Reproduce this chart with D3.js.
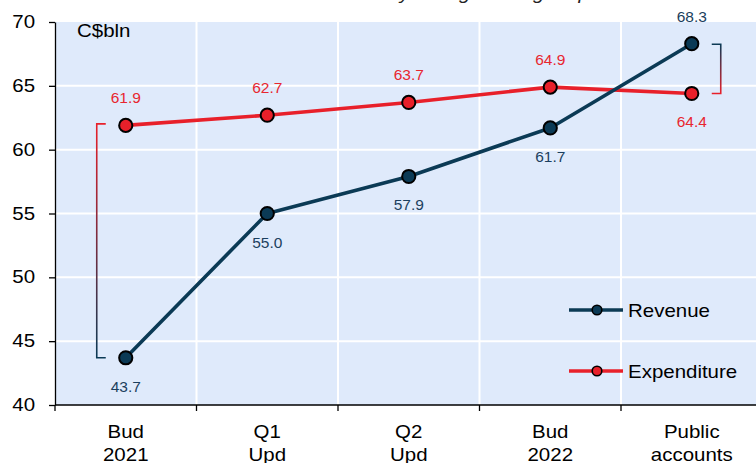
<!DOCTYPE html>
<html>
<head>
<meta charset="utf-8">
<script src="https://cdn.jsdelivr.net/npm/d3@7"></script>
<style>
  html, body { margin: 0; padding: 0; background: #ffffff; }
  svg { display: block; font-family: Arial, "Liberation Sans", sans-serif; }
</style>
</head>
<body>
<svg id="chart" width="756" height="463"></svg>
<script>
// Fiscal outcome for 2021-22 as it evolved through the year, C$ billions
const categories = [["Bud", "2021"], ["Q1", "Upd"], ["Q2", "Upd"], ["Bud", "2022"], ["Public", "accounts"]];
const revenue     = [43.7, 55.0, 57.9, 61.7, 68.3];
const expenditure = [61.9, 62.7, 63.7, 64.9, 64.4];
const yTicks = [40, 45, 50, 55, 60, 65, 70];
// label placement: +1 above the point, -1 below
const revenueLabelSide     = [-1, -1, -1, -1, 1];
const expenditureLabelSide = [1, 1, 1, 1, -1];

const NAVY = "#0b3a55";
const RED = "#e8202a";
const BG = "#dfeafb";
const WIDE = 1.17;      // horizontal stretch used by the large captions
const FS = 17.5;

const svg = d3.select("#chart");
const plot = { left: 55, right: 762.5, top: 22, bottom: 405 };

const keys = categories.map((c, i) => i);
const x = d3.scaleBand().domain(keys).range([plot.left, plot.right]).paddingInner(0).paddingOuter(0);
const y = d3.scaleLinear().domain([40, 70]).range([plot.bottom, plot.top]);
const cx = i => x(i) + x.bandwidth() / 2;

// title line sitting above the frame
const title = svg.append("text")
  .attr("x", 0).attr("y", 0)
  .attr("font-style", "italic")
  .attr("font-size", 17.5)
  .attr("fill", "#222")
  .text("2021-22 fiscal outcome by timing of budget updates");
{
  const t = title.text();
  const yPos = title.node().getStartPositionOfChar(t.indexOf("by") + 1).x;
  title.attr("transform", `translate(${400 - yPos * WIDE},-0.8) scale(${WIDE},1)`);
}

// plot background
svg.append("rect")
  .attr("x", plot.left).attr("y", plot.top)
  .attr("width", plot.right - plot.left).attr("height", plot.bottom - plot.top)
  .attr("fill", BG);

// gridlines
svg.append("g").selectAll("line")
  .data(yTicks.filter(t => t > 40 && t < 70))
  .join("line")
  .attr("x1", plot.left).attr("x2", plot.right)
  .attr("y1", d => y(d)).attr("y2", d => y(d))
  .attr("stroke", "#ffffff").attr("stroke-width", 2);

svg.append("g").selectAll("line")
  .data(keys.slice(1))
  .join("line")
  .attr("x1", d => x(d)).attr("x2", d => x(d))
  .attr("y1", plot.top).attr("y2", plot.bottom)
  .attr("stroke", "#ffffff").attr("stroke-width", 2);

// y axis
const yAxis = svg.append("g")
  .attr("transform", `translate(${plot.left},0)`)
  .call(d3.axisLeft(y).tickValues(yTicks).tickSize(6).tickSizeOuter(0).tickPadding(14));
yAxis.selectAll("text")
  .attr("font-size", FS).attr("fill", "#000")
  .attr("font-family", "Arial, 'Liberation Sans', sans-serif")
  .attr("x", -20 / WIDE)
  .attr("transform", `scale(${WIDE},1)`);
yAxis.selectAll("line").attr("stroke", "#000").attr("stroke-width", 1.3);
yAxis.select(".domain").attr("stroke", "#000").attr("stroke-width", 1.3);

// x axis: baseline, boundary ticks, two-line labels
const xAxis = svg.append("g");
xAxis.append("line")
  .attr("x1", plot.left).attr("x2", plot.right)
  .attr("y1", plot.bottom).attr("y2", plot.bottom)
  .attr("stroke", "#000").attr("stroke-width", 1.3);
xAxis.selectAll("line.tick")
  .data(keys.concat([keys.length]))
  .join("line")
  .attr("class", "tick")
  .attr("x1", d => plot.left + d * x.bandwidth()).attr("x2", d => plot.left + d * x.bandwidth())
  .attr("y1", plot.bottom).attr("y2", plot.bottom + 6)
  .attr("stroke", "#000").attr("stroke-width", 1.3);
const xl = xAxis.selectAll("text.cat")
  .data(categories)
  .join("text")
  .attr("class", "cat")
  .attr("text-anchor", "middle")
  .attr("font-size", FS)
  .attr("fill", "#000")
  .attr("transform", (d, i) => `translate(${cx(i)},0) scale(${WIDE},1)`);
xl.append("tspan").attr("x", 0).attr("y", 438).text(d => d[0]);
xl.append("tspan").attr("x", 0).attr("y", 461).text(d => d[1]);

// unit label
svg.append("text")
  .attr("transform", `translate(77,37) scale(${WIDE},1)`)
  .attr("font-size", FS).attr("fill", "#000")
  .text("C$bln");

// gap brackets with a colour blend between the two series
const defs = svg.append("defs");
function gradient(id, top, bottom) {
  const g = defs.append("linearGradient").attr("id", id)
    .attr("x1", 0).attr("y1", 0).attr("x2", 0).attr("y2", 1);
  g.append("stop").attr("offset", "0%").attr("stop-color", top);
  g.append("stop").attr("offset", "100%").attr("stop-color", bottom);
}
gradient("gapLeft", RED, NAVY);
gradient("gapRight", NAVY, RED);

function bracket(i, yTop, yBot, side, grad) {
  const xp = cx(i);
  const xv = xp + side * 29;
  const xa = xp + side * 20;
  svg.append("path")
    .attr("d", `M${xa},${yTop} H${xv} V${yBot} H${xa}`)
    .attr("fill", "none")
    .attr("stroke", `url(#${grad})`)
    .attr("stroke-width", 1.6);
}
bracket(0, y(expenditure[0]) - 1.5, y(revenue[0]), -1, "gapLeft");
bracket(4, y(revenue[4]) + 0.5, y(expenditure[4]), 1, "gapRight");

// series
const line = d3.line().x((d, i) => cx(i)).y(d => y(d));
function series(values, color, sides, labelColor) {
  svg.append("path")
    .datum(values)
    .attr("d", line)
    .attr("fill", "none")
    .attr("stroke", color)
    .attr("stroke-width", 3.6)
    .attr("stroke-linejoin", "round");
  svg.append("g").selectAll("circle")
    .data(values)
    .join("circle")
    .attr("cx", (d, i) => cx(i)).attr("cy", d => y(d))
    .attr("r", 6.6)
    .attr("fill", color)
    .attr("stroke", "#000").attr("stroke-width", 2);
  svg.append("g").selectAll("text")
    .data(values)
    .join("text")
    .attr("x", (d, i) => cx(i))
    .attr("y", (d, i) => sides[i] > 0 ? y(d) - 22 : y(d) + 34)
    .attr("text-anchor", "middle")
    .attr("font-size", 15.5)
    .attr("fill", labelColor)
    .text(d => d.toFixed(1));
}
series(expenditure, RED, expenditureLabelSide, "#e8262f");
series(revenue, NAVY, revenueLabelSide, "#1b3f5e");

// legend
const legend = [
  { name: "Revenue", color: NAVY, y: 310 },
  { name: "Expenditure", color: RED, y: 371 }
];
const lg = svg.append("g").selectAll("g").data(legend).join("g");
lg.append("line")
  .attr("x1", 569).attr("x2", 623)
  .attr("y1", d => d.y).attr("y2", d => d.y)
  .attr("stroke", d => d.color).attr("stroke-width", 3.6);
lg.append("circle")
  .attr("cx", 597).attr("cy", d => d.y).attr("r", 4.8)
  .attr("fill", d => d.color).attr("stroke", "#000").attr("stroke-width", 1.6);
lg.append("text")
  .attr("transform", d => `translate(628,${d.y + 6.5}) scale(${WIDE},1)`)
  .attr("font-size", FS).attr("fill", "#000")
  .text(d => d.name);
</script>
</body>
</html>
